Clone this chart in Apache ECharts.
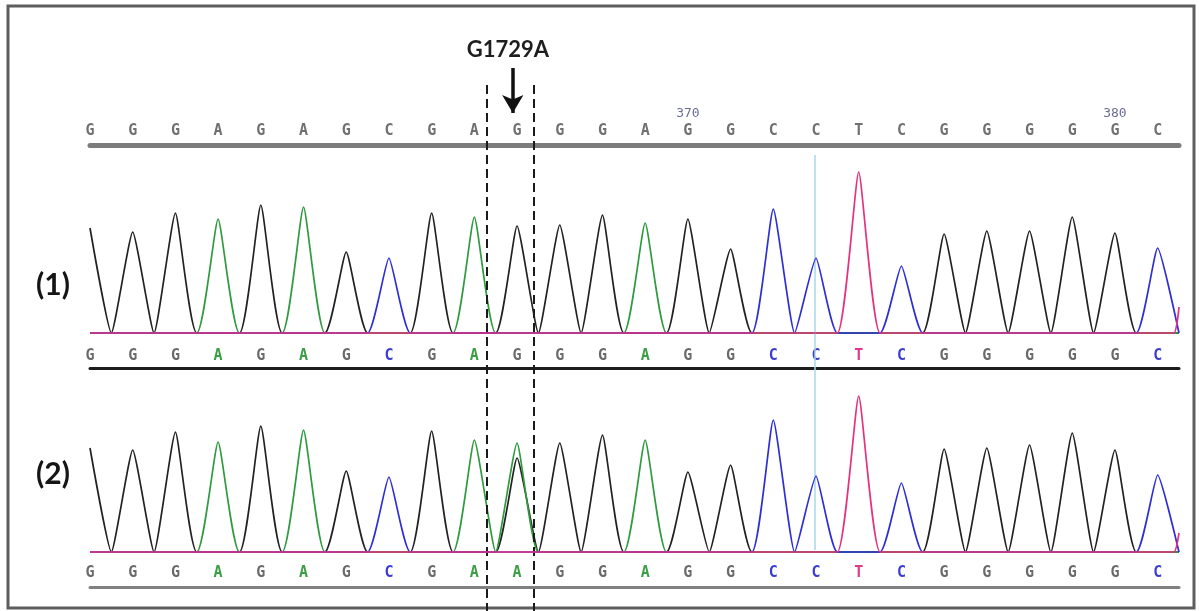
<!DOCTYPE html>
<html>
<head>
<meta charset="utf-8">
<script src="https://cdn.jsdelivr.net/npm/echarts@6/dist/echarts.min.js"></script>
<style>
  html, body { margin: 0; padding: 0; background: #fff; }
  #chart { width: 1199px; height: 611px; }
</style>
</head>
<body>
<div id="chart"></div>
<script>
// reference row and base calls of the two samples
const refSeq = ['G','G','G','A','G','A','G','C','G','A','G','G','G','A','G','G','C','C','T','C','G','G','G','G','G','C']
const calls1 = ['G','G','G','A','G','A','G','C','G','A','G','G','G','A','G','G','C','C','T','C','G','G','G','G','G','C']
const calls2 = ['G','G','G','A','G','A','G','C','G','A','A','G','G','A','G','G','C','C','T','C','G','G','G','G','G','C']
// position numbers above the reference row
const posIdx = [14, 24]
const posText = ['370', '380']
// peak heights at each call
const peaks1 = [105, 101, 120, 114, 128, 126, 81, 75, 120, 116, 107, 108, 118, 110, 114, 84, 124, 75, 161, 67, 99, 102, 102, 116, 100, 85]
const peaks2 = [104, 102, 120, 110, 126, 122, 81, 75, 121, 112, 109, 109, 117, 112, 80, 87, 132, 76, 156, 69, 103, 104, 107, 119, 102, 77]
// second peak under a call (G under the A call at the mutation)
const extraPos2 = [10]
const extraBase2 = ['G']
const extraH2 = [94]
// T signal rising at the right edge
const tailT = [26, 19]

const channels = ['G', 'A', 'C', 'T']
const traceColor = { G: '#222222', A: '#2f9a3f', C: '#2e2ed6', T: '#e5327f' }
const letterColor = { G: '#6a6a6a', A: '#3c9e45', C: '#3b3bd2', T: '#e2388a' }

const X_MIN = 0
const X_MAX = 25.5

// peaks of one channel, valleys back to the baseline between them
const buildTrace = (calls, peaks, exPos, exBase, exH, base, tail) => {
  const pts = []
  const add = (x, y) => {
    const last = pts[pts.length - 1]
    if (last && last[0] === x) {
      if (y > last[1]) last[1] = y
      return
    }
    pts.push([x, y])
  }
  for (let i = 0; i < calls.length; i++) {
    let h = calls[i] === base ? peaks[i] : 0
    exPos.forEach((p, k) => { if (p === i && exBase[k] === base) h = exH[k] })
    if (h > 0) {
      if (i > 0) add(i - 0.5, 0)
      add(i, h)
      add(i + 0.5, 0)
    } else {
      add(i === 0 ? 0 : i - 0.5, 0)
      add(i + 0.5, 0)
    }
  }
  if (tail) {
    pts[pts.length - 1] = [X_MAX - 0.12, 0]
    pts.push([X_MAX, tail])
  }
  return pts
}

const monoFont = { fontFamily: 'DejaVu Sans Mono', fontWeight: 'bold', fontSize: 15 }
const letterRich = {}
channels.forEach(b => { letterRich[b] = { ...monoFont, color: letterColor[b] } })

const baseX = (gridIndex, extra) => ({
  type: 'value',
  gridIndex,
  min: X_MIN,
  max: X_MAX,
  interval: 1,
  position: 'bottom',
  splitLine: { show: false },
  axisTick: { show: false },
  ...extra
})

const xAxis = [
  baseX(0, {
    axisLine: { onZero: false, lineStyle: { color: '#7c7c7c', width: 5 } },
    axisLabel: { inside: true, margin: 6, ...monoFont, color: '#707070',
      formatter: v => refSeq[v] || '' }
  }),
  baseX(0, {
    axisLine: { show: false },
    axisLabel: { inside: true, margin: 25, fontFamily: 'DejaVu Sans Mono', fontSize: 13, color: '#6c6c98',
      formatter: v => { const k = posIdx.indexOf(v); return k >= 0 ? posText[k] : '' } }
  }),
  baseX(1, {
    axisLine: { onZero: false, lineStyle: { color: '#1c1c1c', width: 3 } },
    axisLabel: { inside: true, margin: 4, rich: letterRich,
      formatter: v => calls1[v] ? '{' + calls1[v] + '|' + calls1[v] + '}' : '' }
  }),
  baseX(2, {
    axisLine: { onZero: false, lineStyle: { color: '#808080', width: 3 } },
    axisLabel: { inside: true, margin: 6, rich: letterRich,
      formatter: v => calls2[v] ? '{' + calls2[v] + '|' + calls2[v] + '}' : '' }
  }),
  baseX(3, { show: false })
]

const hiddenY = (gridIndex, min, max, inverse) => ({
  type: 'value', gridIndex, min, max, inverse: !!inverse, show: false
})

const yAxis = [
  hiddenY(0, 0, 1),
  hiddenY(1, -35, 181),
  hiddenY(2, -35, 181),
  hiddenY(3, 0, 611, true)
]

const series = []
channels.forEach((b, k) => {
  series.push({
    type: 'line', name: 's1-' + b, xAxisIndex: 2, yAxisIndex: 1,
    data: buildTrace(calls1, peaks1, [], [], [], b, b === 'T' ? tailT[0] : 0),
    smooth: 0.15, showSymbol: false, z: 3 + k,
    lineStyle: { color: traceColor[b], width: 1.7 }
  })
  series.push({
    type: 'line', name: 's2-' + b, xAxisIndex: 3, yAxisIndex: 2,
    data: buildTrace(calls2, peaks2, extraPos2, extraBase2, extraH2, b, b === 'T' ? tailT[1] : 0),
    smooth: 0.15, showSymbol: false, z: 3 + k,
    lineStyle: { color: traceColor[b], width: 1.7 }
  })
})

// empty series on the header grid so its axes have something to hang on
series.push({ type: 'line', xAxisIndex: 0, yAxisIndex: 0, data: [] })

// light blue cursor line behind the traces
series.push({
  type: 'line', xAxisIndex: 4, yAxisIndex: 3, data: [], z: 1,
  markLine: {
    silent: true, symbol: ['none', 'none'], label: { show: false },
    lineStyle: { color: '#a6d8ea', width: 1.5, type: 'solid' },
    data: [[{ coord: [16.98, 155] }, { coord: [16.98, 550] }]]
  }
})

// dashed box around the mutation and the arrow above it
series.push({
  type: 'line', xAxisIndex: 4, yAxisIndex: 3, data: [], z: 10,
  markLine: {
    silent: true, symbol: ['none', 'none'], label: { show: false },
    lineStyle: { color: '#1a1a1a', width: 2, type: [9, 5] },
    data: [
      [{ coord: [9.3, 85] }, { coord: [9.3, 611] }],
      [{ coord: [10.4, 85] }, { coord: [10.4, 611] }],
      [{ coord: [9.9, 68], symbol: 'none' }, { coord: [9.9, 113], symbol: 'arrow', symbolSize: [16, 18],
        lineStyle: { type: 'solid', width: 3.5, color: '#111' } }]
    ]
  }
})

const chart = echarts.init(document.getElementById('chart'), null, { renderer: 'canvas' })
chart.setOption({
  animation: false,
  backgroundColor: '#ffffff',
  grid: [
    { left: 90, right: 20, top: 95, height: 50 },
    { left: 90, right: 20, top: 152, height: 216 },
    { left: 90, right: 20, top: 371, height: 216 },
    { left: 90, right: 20, top: 0, height: 611 }
  ],
  xAxis,
  yAxis,
  series,
  graphic: [
    { type: 'rect', silent: true, shape: { x: 8, y: 6, width: 1186, height: 602 },
      style: { fill: 'none', stroke: '#5e5e5e', lineWidth: 3 } },
    { type: 'text', x: 508, y: 50, style: { text: 'G1729A', fill: '#1e1e1e',
      font: 'bold 22px Lato', align: 'center', verticalAlign: 'middle' } },
    { type: 'text', x: 53, y: 285, style: { text: '(1)', fill: '#151515',
      font: 'bold 30px Lato', align: 'center', verticalAlign: 'middle' } },
    { type: 'text', x: 53, y: 474, style: { text: '(2)', fill: '#151515',
      font: 'bold 30px Lato', align: 'center', verticalAlign: 'middle' } }
  ]
})
</script>
</body>
</html>
